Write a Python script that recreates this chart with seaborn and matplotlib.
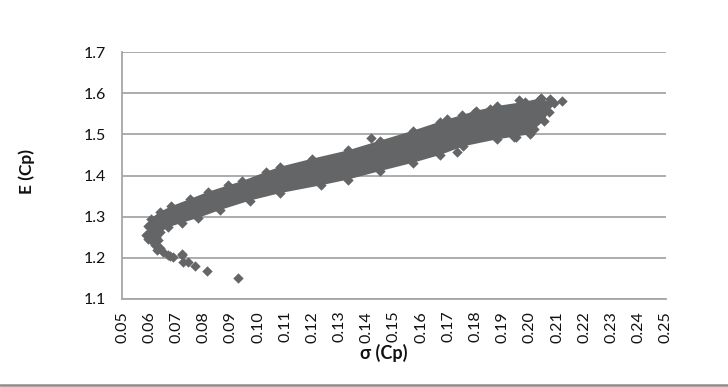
import numpy as np
import pandas as pd
import seaborn as sns
import matplotlib.pyplot as plt
from matplotlib.lines import Line2D

# upper edge of the dense cloud (sigma, E), left to right
upper_sigma = [0.0590, 0.0595, 0.0605, 0.0640, 0.0680, 0.0750, 0.0815, 0.0890, 0.0940,
               0.1030, 0.1080, 0.1200, 0.1330, 0.1450, 0.1570, 0.1670, 0.1750, 0.1800,
               0.1880, 0.1980, 0.2040, 0.2075]
upper_e = [1.256, 1.277, 1.295, 1.312, 1.325, 1.343, 1.360, 1.376, 1.386,
           1.409, 1.421, 1.441, 1.461, 1.485, 1.509, 1.531, 1.547, 1.557,
           1.569, 1.579, 1.588, 1.577]

# right end + lower edge, right to left
lower_sigma = [0.2070, 0.2050, 0.2015, 0.2000, 0.1940, 0.1880, 0.1755, 0.1670, 0.1570,
               0.1450, 0.1330, 0.1230, 0.1080, 0.0970, 0.0860, 0.0780, 0.0720, 0.0670,
               0.0640, 0.0625, 0.0610, 0.0595]
lower_e = [1.555, 1.532, 1.512, 1.500, 1.494, 1.488, 1.471, 1.450, 1.431,
           1.411, 1.390, 1.376, 1.357, 1.339, 1.316, 1.297, 1.285, 1.274,
           1.262, 1.250, 1.242, 1.246]

# isolated points outside the cloud
out_sigma = [0.0633, 0.0620, 0.0629, 0.0639, 0.0651, 0.0669, 0.0676, 0.0688, 0.0719, 0.0722,
             0.0725, 0.0743, 0.0768, 0.0811, 0.0927,
             0.1414, 0.1694, 0.1796, 0.1853, 0.1958, 0.2037, 0.2072, 0.2089, 0.2117,
             0.1731, 0.1949]
out_e = [1.244, 1.232, 1.220, 1.224, 1.215, 1.207, 1.205, 1.202, 1.207, 1.210,
         1.191, 1.191, 1.180, 1.169, 1.150,
         1.490, 1.537, 1.553, 1.561, 1.583, 1.586, 1.587, 1.577, 1.581,
         1.457, 1.494]

x_ticks = [round(0.05 + 0.01 * i, 2) for i in range(21)]
y_ticks = [1.1, 1.2, 1.3, 1.4, 1.5, 1.6, 1.7]

pt_color = "#646567"
grid_color = "#a6a6a6"

sns.set_style("white")
plt.rcParams['font.family'] = ['Lato', 'DejaVu Sans']

fig = plt.figure(figsize=(7.28, 3.87), dpi=100)
ax = fig.add_axes([0.1676, 0.2274, 0.7472, 0.6382])

band_sigma = upper_sigma + lower_sigma
band_e = upper_e + lower_e
ax.fill(band_sigma, band_e, color=pt_color, lw=0, zorder=3)

df = pd.DataFrame({
    "sigma": band_sigma + out_sigma,
    "E": band_e + out_e,
})
sns.scatterplot(data=df, x="sigma", y="E", marker="D", s=28, color=pt_color,
                edgecolor=pt_color, linewidth=0, ax=ax, zorder=4, legend=False)

ax.set_xlim(0.05, 0.25)
ax.set_ylim(1.1, 1.7)
ax.set_xticks(x_ticks)
ax.set_xticklabels([f"{t:.2f}" for t in x_ticks], rotation=90)
ax.set_yticks(y_ticks)
ax.set_yticklabels([f"{t:.1f}" for t in y_ticks])
ax.yaxis.grid(True, color=grid_color, lw=1.3)
ax.xaxis.grid(False)
for s in ["top", "right"]:
    ax.spines[s].set_visible(False)
for s in ["left", "bottom"]:
    ax.spines[s].set_color(grid_color)
    ax.spines[s].set_linewidth(1.3)
ax.tick_params(axis="both", colors=grid_color, labelcolor="#111111", labelsize=11.5,
               length=4.5, width=1.2, direction="out")
ax.tick_params(axis="y", pad=7)
ax.tick_params(axis="x", pad=4)

ax.set_xlabel("σ (Cp)", fontsize=13, fontweight="bold", color="#111111", va="center")
ax.set_ylabel("E (Cp)", fontsize=12.5, fontweight="bold", color="#111111", va="center")
ax.xaxis.set_label_coords(0.482, -0.219)
ax.yaxis.set_label_coords(-0.176, 0.515)

fig.add_artist(Line2D([0, 1], [0.006, 0.006], transform=fig.transFigure,
                      color="#8c8c8c", lw=1.8))

fig.savefig("out.png", dpi=100)
